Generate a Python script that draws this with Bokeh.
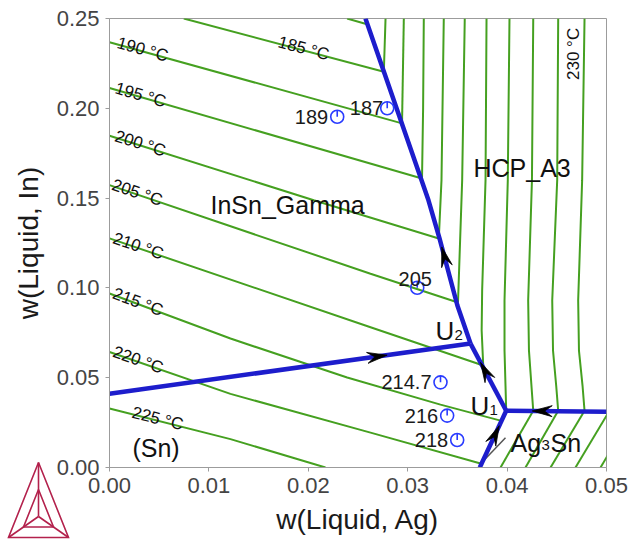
import math
import numpy as np
from bokeh.plotting import figure
from bokeh.models import Range1d, FixedTicker, NumeralTickFormatter, ColumnDataSource, GridBox
from bokeh.core.properties import value
from bokeh.embed import file_html
from bokeh.resources import INLINE

# ---------------- data: liquidus projection of Sn-rich Sn-Ag-In ----------------
x_ticks = [0.00, 0.01, 0.02, 0.03, 0.04, 0.05]
y_ticks = [0.00, 0.05, 0.10, 0.15, 0.20, 0.25]

# invariant points (w(Ag), w(In))
u1_x, u1_y = 0.03991, 0.0316
u2_x, u2_y = 0.03632, 0.0690

# monovariant lines
sn_insn_x = [0.0, 0.03632]
sn_insn_y = [0.0411, 0.0690]
insn_hcp_x = [0.03632, 0.0350, 0.0332, 0.03209, 0.02575]
insn_hcp_y = [0.0690, 0.0902, 0.1276, 0.1488, 0.2500]
u1_u2_x = [0.03991, 0.03632]
u1_u2_y = [0.0316, 0.0690]
sn_ag3sn_x = [0.03725, 0.03991]
sn_ag3sn_y = [0.0000, 0.0316]
hcp_ag3sn_x = [0.0500, 0.03991]
hcp_ag3sn_y = [0.0311, 0.0316]

# isotherms on the (Sn) / InSn_Gamma liquidus surface
iso_low_T = [180, 185, 190, 195, 200, 205, 210, 215, 220, 225]
iso_low_x = [
    [0.0239, 0.0260],
    [0.00747, 0.0276],
    [0.0, 0.02943],
    [0.0, 0.03144],
    [0.0, 0.02055, 0.03313],
    [0.0, 0.02626, 0.03506],
    [0.0, 0.02626, 0.0376],
    [0.0, 0.01217, 0.02391, 0.0333, 0.03934],
    [0.0, 0.01217, 0.02626, 0.03742],
    [0.0, 0.01217, 0.02173],
]
iso_low_y = [
    [0.2500, 0.2467],
    [0.2500, 0.2204],
    [0.2368, 0.1916],
    [0.2113, 0.1609],
    [0.1847, 0.1488, 0.1275],
    [0.1572, 0.1079, 0.0919],
    [0.1276, 0.0781, 0.0568],
    [0.0969, 0.0718, 0.0501, 0.0350, 0.0261],
    [0.0643, 0.0410, 0.0194, 0.0021],
    [0.0329, 0.0158, 0.0000],
]

# isotherms on the HCP_A3 liquidus surface
iso_hcp_T = [185, 190, 195, 200, 205, 210, 215, 220, 225, 230]
iso_hcp_x = [
    [0.0276, 0.02777],
    [0.02943, 0.02961],
    [0.03144, 0.03155, 0.03162],
    [0.03313, 0.0334, 0.03363],
    [0.03506, 0.03548, 0.03574],
    [0.0376, 0.03744, 0.03749, 0.03783, 0.03793],
    [0.03991, 0.03984, 0.03974, 0.03974, 0.04007, 0.04024],
    [0.04263, 0.04245, 0.04220, 0.04212, 0.04250, 0.04263],
    [0.04514, 0.04494, 0.04462, 0.04454, 0.04504, 0.04514],
    [0.04779, 0.04759, 0.04723, 0.04715, 0.04755, 0.04779],
]
iso_hcp_y = [
    [0.2204, 0.2500],
    [0.1916, 0.2500],
    [0.1609, 0.2000, 0.2500],
    [0.1275, 0.1600, 0.2500],
    [0.0919, 0.1600, 0.2500],
    [0.0568, 0.0763, 0.0986, 0.1600, 0.2500],
    [0.0316, 0.0455, 0.0651, 0.0930, 0.1600, 0.2500],
    [0.0316, 0.0455, 0.0651, 0.0930, 0.1600, 0.2500],
    [0.0316, 0.0455, 0.0651, 0.0930, 0.1600, 0.2500],
    [0.0316, 0.0455, 0.0651, 0.0930, 0.1600, 0.2500],
]

# isotherms on the Ag3Sn liquidus surface
iso_ag3sn_T = [220, 225, 230, 235, 240]
iso_ag3sn_x = [
    [0.03934, 0.04263],
    [0.04185, 0.04514],
    [0.04437, 0.04779],
    [0.04688, 0.05030],
    [0.04940, 0.05280],
]
iso_ag3sn_y = [[0.0, 0.0316]] * 5

# short tie segment near the Ag3Sn corner
tie_x = [0.03763, 0.03984]
tie_y = [0.0037, 0.0166]

# calculated solidification temperatures (deg C) at selected alloys
alloy_T = ["189", "187", "205", "214.7", "216", "218"]
alloy_x = [0.02291, 0.02794, 0.03096, 0.0333, 0.03397, 0.03498]
alloy_y = [0.1953, 0.2000, 0.1001, 0.0474, 0.0289, 0.0153]

# ---------------- figure ----------------
FONT = "Liberation Sans"
W, H = 634, 541
BL, BR, BT, BB = 109, 28, 18, 74
FW, FH = W - BL - BR, H - BT - BB
SX = FW / (x_ticks[-1] - x_ticks[0])   # px per data unit
SY = FH / (y_ticks[-1] - y_ticks[0])

GREEN = "#45a020"
BLUE = "#1d1dcc"
MARK = "#2a3cff"
GREY = "#9c9c9c"

p = figure(width=W, height=H, x_range=Range1d(0.0, 0.05), y_range=Range1d(0.0, 0.25),
           output_backend="svg", toolbar_location=None,
           min_border_left=BL, min_border_right=BR, min_border_top=BT, min_border_bottom=BB)
p.frame_align = False
p.background_fill_color = "white"
p.border_fill_color = "white"
p.outline_line_color = GREY
p.outline_line_width = 1
p.xgrid.visible = False
p.ygrid.visible = False

p.xaxis.ticker = FixedTicker(ticks=x_ticks)
p.yaxis.ticker = FixedTicker(ticks=y_ticks)
p.xaxis.formatter = NumeralTickFormatter(format="0.00")
p.yaxis.formatter = NumeralTickFormatter(format="0.00")
p.xaxis.axis_label = "w(Liquid, Ag)"
p.yaxis.axis_label = "w(Liquid, In)"
for ax in (p.xaxis, p.yaxis):
    ax.axis_line_color = GREY
    ax.major_tick_line_color = GREY
    ax.major_tick_in = 0
    ax.major_tick_out = 4
    ax.minor_tick_line_color = None
    ax.major_label_text_font = FONT
    ax.major_label_text_font_size = "22px"
    ax.major_label_text_color = "#444444"
    ax.axis_label_text_font = FONT
    ax.axis_label_text_font_size = "28px"
    ax.axis_label_text_font_style = "normal"
    ax.axis_label_text_color = "#1a1a1a"
p.xaxis.major_label_standoff = 6
p.yaxis.major_label_standoff = 6
p.xaxis.axis_label_standoff = 8
p.yaxis.axis_label_standoff = 10

# isotherms
p.multi_line(xs=iso_low_x, ys=iso_low_y, line_color=GREEN, line_width=2)
p.multi_line(xs=iso_hcp_x, ys=iso_hcp_y, line_color=GREEN, line_width=2)
p.multi_line(xs=iso_ag3sn_x, ys=iso_ag3sn_y, line_color=GREEN, line_width=2)
p.line(tie_x, tie_y, line_color="#555555", line_width=1.5)

# monovariant lines
p.multi_line(xs=[sn_insn_x, insn_hcp_x, u1_u2_x, sn_ag3sn_x, hcp_ag3sn_x],
             ys=[sn_insn_y, insn_hcp_y, u1_u2_y, sn_ag3sn_y, hcp_ag3sn_y],
             line_color=BLUE, line_width=4.5, line_join="round")


# arrowheads showing decreasing temperature along the monovariant lines
def arrow_head(x0, y0, x1, y1, t, length=20.0, width=11.0, notch=0.62):
    tx, ty = x0 + t * (x1 - x0), y0 + t * (y1 - y0)
    dx, dy = (x1 - x0) * SX, (y1 - y0) * SY
    n = math.hypot(dx, dy)
    ux, uy = dx / n, dy / n
    nx, ny = -uy, ux
    pts = [(0.0, 0.0),
           (-length * ux + width / 2 * nx, -length * uy + width / 2 * ny),
           (-notch * length * ux, -notch * length * uy),
           (-length * ux - width / 2 * nx, -length * uy - width / 2 * ny)]
    return [tx + a / SX for a, b in pts], [ty + b / SY for a, b in pts]


heads = [
    arrow_head(sn_insn_x[0], sn_insn_y[0], sn_insn_x[1], sn_insn_y[1], 0.769),
    arrow_head(insn_hcp_x[1], insn_hcp_y[1], insn_hcp_x[2], insn_hcp_y[2], 0.872),
    arrow_head(u1_u2_x[0], u1_u2_y[0], u1_u2_x[1], u1_u2_y[1], 0.72),
    arrow_head(sn_ag3sn_x[0], sn_ag3sn_y[0], sn_ag3sn_x[1], sn_ag3sn_y[1], 0.737),
    arrow_head(hcp_ag3sn_x[0], hcp_ag3sn_y[0], hcp_ag3sn_x[1], hcp_ag3sn_y[1], 0.741),
]
p.patches(xs=[h[0] for h in heads], ys=[h[1] for h in heads],
          fill_color="black", line_color="black", line_width=0.8)

# alloy markers
p.scatter(alloy_x, alloy_y, marker="circle", size=13, fill_color=None,
          line_color=MARK, line_width=1.6)
p.ray(alloy_x, alloy_y, length=6.5, length_units="screen", angle=math.pi / 2,
      line_color=MARK, line_width=1.6)

mark_style = {
    "189": ("right", "middle", -9, 0),
    "187": ("right", "alphabetic", -4, 0),
    "205": ("center", "alphabetic", -2, -9),
    "214.7": ("right", "middle", -9, 0),
    "216": ("right", "middle", -9, 0),
    "218": ("right", "middle", -9, 0),
}
for t, x, y in zip(alloy_T, alloy_x, alloy_y):
    al, bl, xo, yo = mark_style[t]
    p.text(x=[x], y=[y], text=[t], text_font=value(FONT), text_font_size="20px",
           text_color="#1a1a1a", text_align=al, text_baseline=bl, x_offset=xo, y_offset=yo)

# isotherm labels placed along their lines
label_pos = {185: 0.0170, 190: 0.0008, 195: 0.0006, 200: 0.0006, 205: 0.0003,
             210: 0.0004, 215: 0.0004, 220: 0.0004, 225: 0.0023}
lab_x, lab_y, lab_a, lab_t = [], [], [], []
for T, xs, ys in zip(iso_low_T, iso_low_x, iso_low_y):
    if T not in label_pos:
        continue
    lx = label_pos[T]
    ly = float(np.interp(lx, xs, ys))
    i = max(0, min(len(xs) - 2, int(np.searchsorted(xs, lx)) - 1))
    ang = math.atan2((ys[i + 1] - ys[i]) * SY, (xs[i + 1] - xs[i]) * SX)
    lab_x.append(lx)
    lab_y.append(ly)
    lab_a.append(ang)
    lab_t.append(f"{T} °C")
p.text(x="x", y="y", text="t", angle="a",
       source=ColumnDataSource(dict(x=lab_x, y=lab_y, t=lab_t, a=lab_a)),
       text_font=value(FONT), text_font_size="17px", text_color="#111111",
       text_align="left", text_baseline="alphabetic", y_offset=-2)

# label of the last HCP_A3 isotherm, written along the line
top_T = iso_hcp_T[-1]
p.text(x=[iso_hcp_x[-1][-1]], y=[0.2303], text=[f"{top_T} °C"], angle=math.pi / 2,
       text_font=value(FONT), text_font_size="17px", text_color="#111111",
       text_align="center", text_baseline="bottom", x_offset=-2)


# phase region labels (bottom-anchored; small digits act as subscripts)
def label(x, y, txt, size="25px", xo=0, yo=0):
    p.text(x=[x], y=[y], text=[txt], text_font=value(FONT), text_font_size=size,
           text_color="#111111", text_align="left", text_baseline="bottom",
           x_offset=xo, y_offset=yo)


label(0.03662, 0.1617, "HCP_A3", yo=5)
label(0.01016, 0.1414, "InSn_Gamma", yo=5)
label(0.00231, 0.0056, "(Sn)", yo=5)
label(0.04034, 0.0084, "Ag", yo=5)
label(0.04034, 0.0084, "3", size="15px", xo=31, yo=-2)
label(0.04034, 0.0084, "Sn", xo=40, yo=5)
label(0.0328, 0.0703, "U", size="26px", yo=5)
label(0.0328, 0.0703, "2", size="15px", xo=19, yo=-1)
label(0.03632, 0.0288, "U", size="26px", yo=5)
label(0.03632, 0.0288, "1", size="15px", xo=19, yo=-1)

# Thermo-Calc style logo: a transparent canvas of the same size laid over the
# chart, in pixel coordinates measured from the top-left corner
LOGO = "#b3214c"
logo = figure(width=W, height=H, x_range=Range1d(0, W), y_range=Range1d(H, 0),
              output_backend="svg", toolbar_location=None,
              x_axis_location=None, y_axis_location=None,
              min_border=0, min_border_left=0, min_border_right=0,
              min_border_top=0, min_border_bottom=0)
logo.frame_align = False
logo.grid.visible = False
logo.outline_line_color = None
logo.background_fill_color = None
logo.border_fill_color = None

A, B, C = (38.0, 462.0), (8.0, 537.0), (68.0, 537.0)
G = ((A[0] + B[0] + C[0]) / 3, (A[1] + B[1] + C[1]) / 3 + 4)
mid = [((v[0] + G[0]) / 2, (v[1] + G[1]) / 2) for v in (A, B, C)]
segs = [[A, B, C, A], [A, G], [B, G], [C, G], mid + [mid[0]]]
logo.multi_line(xs=[[q[0] for q in s] for s in segs], ys=[[q[1] for q in s] for s in segs],
                line_color=LOGO, line_width=1.6, line_join="miter")

layout = GridBox(children=[(p, 0, 0), (logo, 0, 0)])
open("out.html", "w").write(file_html(layout, INLINE))
